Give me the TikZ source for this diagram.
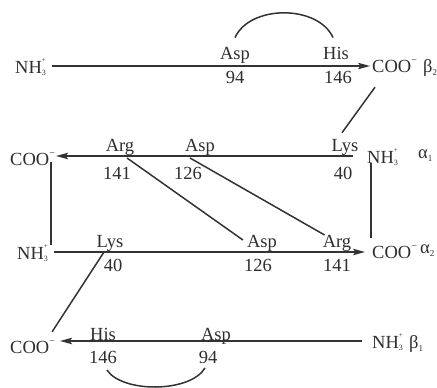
\documentclass[tikz,border=0pt]{standalone}
\usepackage{fontspec}
\setmainfont{Liberation Serif}
\usetikzlibrary{arrows.meta}
% stacked charge: subscript #1 below, superscript #2 above
\newcommand\chg[2]{\rlap{\raisebox{11pt}{\fontsize{7}{7}\selectfont #2}}\raisebox{-2pt}{\fontsize{8}{8}\selectfont #1}}
\newcommand\ammon{NH\chg{3}{+}}
\newcommand\carbox{COO\raisebox{8.5pt}{\fontsize{10}{10}\selectfont −}}
\newcommand\chain[2]{#1\raisebox{-3pt}{\fontsize{9}{9}\selectfont #2}}
\begin{document}
\begin{tikzpicture}[x=1pt,y=-1pt,
  every node/.style={inner sep=0pt, font=\fontsize{18.5}{20}\selectfont, text=black!82},
  term/.style={text height=14pt, text depth=0pt},
  ln/.style={draw=black!80, line width=1.5pt},
  arr/.style={ln, -{Stealth[length=12pt,width=6.5pt,inset=2.5pt]}}]
\useasboundingbox (0,0) rectangle (437,388);

% beta2 chain
\node[term,anchor=base west] (nhB2) at (15,73) {\ammon};
\node[term,anchor=base west] (cooB2) at (372,72) {\carbox};
\node[anchor=base west] (gB2) at (423,72) {\chain{β}{2}};
\node[anchor=base] (aspB2) at (235,59) {Asp};
\node[anchor=base] (nB2a) at (235,83) {94};
\node[anchor=base] (hisB2) at (336,59) {His};
\node[anchor=base] (nB2b) at (338,83) {146};

% alpha1 chain
\node[term,anchor=base west] (cooA1) at (10,165) {\carbox};
\node[term,anchor=base west] (nhA1) at (367,163) {\ammon};
\node[anchor=base west] (gA1) at (418,158) {\chain{α}{1}};
\node[anchor=base] (argA1) at (120,151) {Arg};
\node[anchor=base] (nA1a) at (117,179) {141};
\node[anchor=base] (aspA1) at (200,151) {Asp};
\node[anchor=base] (nA1b) at (188,179) {126};
\node[anchor=base] (lysA1) at (345,151) {Lys};
\node[anchor=base] (nA1c) at (343,179) {40};

% alpha2 chain
\node[term,anchor=base west] (nhA2) at (17,259) {\ammon};
\node[term,anchor=base west] (cooA2) at (372,258) {\carbox};
\node[anchor=base west] (gA2) at (420,253) {\chain{α}{2}};
\node[anchor=base] (lysA2) at (110,247) {Lys};
\node[anchor=base] (nA2a) at (113,271) {40};
\node[anchor=base] (aspA2) at (262,247) {Asp};
\node[anchor=base] (nA2b) at (258,271) {126};
\node[anchor=base] (argA2) at (337,247) {Arg};
\node[anchor=base] (nA2c) at (337,271) {141};

% beta1 chain
\node[term,anchor=base west] (cooB1) at (10,353) {\carbox};
\node[term,anchor=base west] (nhB1) at (372,348) {\ammon};
\node[anchor=base west] (gB1) at (409,348) {\chain{β}{1}};
\node[anchor=base] (hisB1) at (103,340) {His};
\node[anchor=base] (nB1a) at (103,363) {146};
\node[anchor=base] (aspB1) at (216,340) {Asp};
\node[anchor=base] (nB1b) at (208,363) {94};

% chain directions
\draw[arr] ([xshift=6pt]nhB2.east) -- ([xshift=-2pt]nhB2.east -| cooB2.west);
\draw[arr] ([xshift=-14pt]nhA1.west) -- ([xshift=1pt]nhA1.west -| cooA1.east);
\draw[arr] ([xshift=6pt]nhA2.east) -- ([xshift=-7pt]nhA2.east -| cooA2.west);
\draw[arr] ([xshift=-10pt]nhB1.west) -- ([xshift=5pt]nhB1.west -| cooB1.east);

% contacts between chains
\draw[ln] ([xshift=-4pt,yshift=3pt]cooA1.south east) -- ([xshift=-4pt]cooA1.south east |- nhA2.north);
\draw[ln] ([xshift=4pt]nhA1.south west) -- ([xshift=4pt,yshift=6pt]nhA1.south west |- cooA2.north);
\draw[ln] ([xshift=3pt,yshift=-15pt]cooB2.south west) -- ([xshift=-3pt,yshift=6pt]lysA1.north);
\draw[ln] ([xshift=7pt,yshift=-7pt]argA1.base) -- ([xshift=-4pt,yshift=7pt]aspA2.base west);
\draw[ln] ([xshift=-10pt,yshift=-7pt]aspA1.base) -- ([xshift=2pt,yshift=12pt]argA2.base west);
\draw[ln] ([xshift=-6pt,yshift=-5pt]lysA2.base) -- ([xshift=-3pt,yshift=7pt]cooB1.north east);

% salt bridges within the beta chains
\draw[ln] ([yshift=9pt]aspB2.north) .. controls +(15,-33) and +(-15,-33) .. ([xshift=-3pt,yshift=9pt]hisB2.north);
\draw[ln] ([xshift=4pt,yshift=-7pt]nB1a.base) .. controls +(15,23) and +(-15,25) .. ([xshift=-3pt,yshift=-5pt]nB1b.base);
\end{tikzpicture}
\end{document}
